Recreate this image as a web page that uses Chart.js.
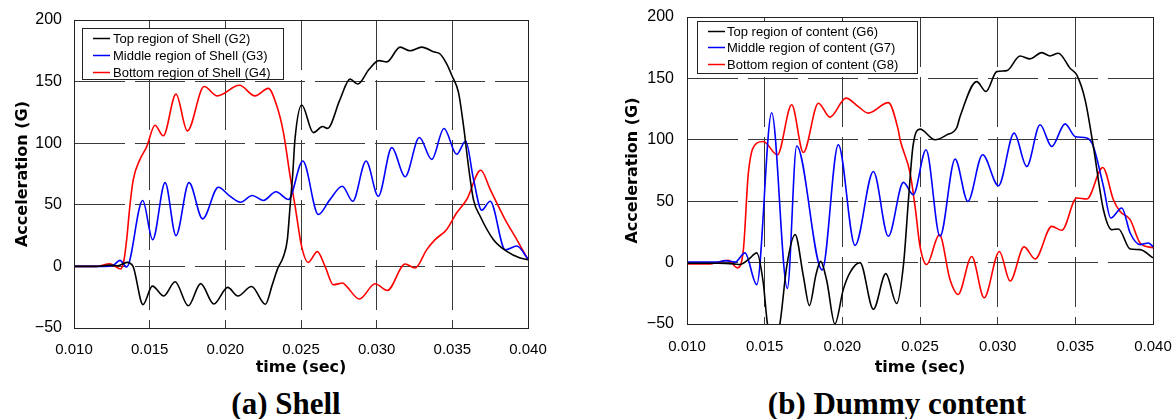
<!DOCTYPE html>
<html><head><meta charset="utf-8">
<script src="https://cdn.jsdelivr.net/npm/chart.js@4.4.1/dist/chart.umd.min.js"></script>
<style>
html,body{margin:0;padding:0;background:#fff;}
#wrap{position:relative;width:1176px;height:419px;overflow:hidden;background:#fff;}
.cv{position:absolute;top:0;}
.cap{position:absolute;font-family:"Liberation Serif","Times New Roman",serif;font-weight:bold;font-size:31px;line-height:31px;white-space:nowrap;transform:translateX(-50%);color:#000;}
</style></head><body>
<div id="wrap">
<canvas id="c1" class="cv" style="left:0" width="560" height="380"></canvas>
<canvas id="c2" class="cv" style="left:588px" width="588" height="380"></canvas>
<div class="cap" style="left:286px;top:388px">(a) Shell</div>
<div class="cap" style="left:897px;top:388px">(b) Dummy content</div>
</div>
<script>
// ---- shared axis values ----
const xTicksSec = [0.010, 0.015, 0.020, 0.025, 0.030, 0.035, 0.040];
const yTicks = [-50, 0, 50, 100, 150, 200];

// ---- (a) Shell : time in ms, acceleration in G ----
const shellTopT = [10.0,11.5,12.4,12.9,13.5,13.9,14.56,15.18,15.93,16.68,17.55,18.37,19.24,20.16,20.83,21.73,22.65,23.1,23.45,23.84,24.1,24.28,24.46,24.6,25.05,25.81,26.43,26.75,27.58,28.24,28.75,29.5,30.15,30.67,31.55,32.2,32.98,33.75,34.19,34.6,34.97,35.41,35.74,36.07,36.4,36.84,37.72,38.6,39.48,40.0];
const shellTopG = [0,0,1,0.5,3.3,0,-31,-16,-24,-12.5,-32,-14,-30.5,-17,-24,-16.3,-30.7,-15,-2,8,22,49,76,103,131,108.6,113.5,112,135.6,152,148,160,167,166,178,175,178,174.3,172.4,165,155,141,114,81,54,40.7,21.7,12.2,6.8,5.5];

const shellMidT = [10.0,12.0,12.6,13.04,13.48,14.54,15.2,16.02,16.74,17.6,18.5,19.54,20.3,21.0,21.78,22.51,23.35,24.17,25.12,26.15,26.9,27.73,28.42,29.3,30.11,31.0,31.88,32.82,33.64,34.45,35.29,35.88,36.4,36.94,37.5,38.5,39.26,40.0];
const shellMidG = [0,0,1,4.9,-0.5,53.5,21.7,68,25,68,38.6,64.3,57,52.1,57.6,53.5,60.6,54.3,85.5,42.1,54,65.1,52.9,85.5,57,96.4,72.8,104.6,86.9,111.9,91,101.8,70.6,45.6,52.9,13.5,16.5,6];

const shellBotT = [10.0,11.5,12.38,13.08,13.3,13.48,13.7,13.92,14.36,14.8,15.35,15.9,16.74,17.49,18.6,19.47,20.93,21.96,22.84,23.4,23.84,24.28,24.61,25.04,25.48,26.08,26.59,27.14,27.76,28.0,28.86,29.9,30.71,31.88,32.54,33.31,33.86,34.63,35.29,35.95,36.88,37.5,38.49,39.26,40.0];
const shellBotG = [0,0,2.2,-2.1,5,21.7,50,70.6,86.9,97,114.6,106,139.8,110,146,138.4,147,138.4,144.5,130.3,108.6,73.3,48.9,16.3,3.3,12,0,-14.9,-13.5,-16,-26.5,-14.1,-19.5,2,-1.3,13.6,21.7,30,43.5,54.3,78,62.5,38,21.7,5.5];

// ---- (b) Dummy content : time in ms, acceleration in G ----
const contTopT = [10.0,12.0,13.0,13.41,14.0,14.49,14.91,15.17,15.55,15.99,16.42,16.96,17.49,17.88,18.3,18.6,19.0,19.52,20.06,20.5,21.14,22.0,22.8,23.5,23.95,24.25,24.55,25.0,25.97,26.72,27.37,27.58,28.65,29.25,29.94,30.59,31.44,32.09,32.84,33.37,33.91,34.66,35.09,35.63,36.16,36.81,37.35,37.78,38.53,39.17,40.0];
const contTopG = [-0.5,-0.5,-1,-1.6,3,7.9,-16.5,-49,-68,-49,-3,22.8,-11,-35,-10,1,-15,-50,-22,-8,0,-38,-9,-33.3,0,50,95,108.7,100,104,110,119,147.4,139.3,155.5,156.3,168.3,165.9,171,168.3,170.5,158.3,152.8,132.5,94.6,43,26.8,27.4,11.1,10.6,3.8];

const contMidT = [10.0,12.0,12.45,13.1,13.73,14.49,15.45,16.46,17.06,18.7,19.74,20.82,22.0,22.96,23.93,24.57,25.39,26.29,27.26,28.08,29.03,30.05,31.06,31.87,32.73,33.48,34.34,34.98,35.74,36.16,36.81,37.28,37.99,38.53,39.17,39.7,40.0];
const contMidG = [0.5,0.5,1.6,0.5,7.9,-17.9,122,-21,95,-6,96,14,74.2,21.4,65.3,55.3,91.9,21.4,84.3,49.8,87.8,62.6,105.4,78.3,112.2,94.6,113,102.7,101.4,94.6,62,36.3,44.5,24.1,14.6,16,13];

const contBotT = [10.0,11.5,12.66,13.24,13.63,13.95,14.49,14.91,15.82,16.74,17.49,18.46,19.2,20.24,21.03,21.67,22.96,23.6,23.72,24.36,24.68,25.0,25.43,26.25,26.93,27.45,28.33,29.13,30.11,30.8,31.7,32.41,33.48,34.13,35.09,35.74,36.77,37.45,37.88,38.53,39.17,40.0];
const contBotG = [-1,-1,1.9,-4.3,10.6,73,97.3,98.6,87.8,128.5,89.7,129.8,118.5,133.9,127,121.7,130.3,108,100,73,46,13.3,-1.6,22.8,-13.8,-26,5,-28.7,9,-15,12.8,3,29.5,26.3,52.6,51.8,77.5,51.2,41.7,35,16,12];

const shellLabels = ['Top region of Shell (G2)','Middle region of Shell (G3)','Bottom region of Shell (G4)'];
const contLabels = ['Top region of content (G6)','Middle region of content (G7)','Bottom region of content (G8)'];
const seriesColors = ['#000000','#0000ff','#ff0000'];

function pts(ts, vs){ return ts.map((t,i)=>({x:t/1000, y:vs[i]})); }

const frameBox = {
  id:'frameBox',
  afterDatasetsDraw(chart, args, o){
    const a = chart.chartArea, ctx = chart.ctx;
    ctx.save(); ctx.strokeStyle = o.color || '#000'; ctx.lineWidth = 1;
    ctx.strokeRect(Math.round(a.left)+0.5, Math.round(a.top)+0.5, Math.round(a.right-a.left), Math.round(a.bottom-a.top));
    ctx.restore();
  }
};
const boxLegend = {
  id:'boxLegend',
  afterDraw(chart, args, o){
    const ctx = chart.ctx;
    ctx.save();
    ctx.fillStyle = '#fff'; ctx.fillRect(o.x, o.y, o.w, o.h);
    ctx.strokeStyle = '#222'; ctx.lineWidth = 1;
    ctx.strokeRect(o.x+0.5, o.y+0.5, o.w, o.h);
    ctx.font = '13px "Liberation Sans", Arial, sans-serif';
    ctx.textBaseline = 'middle'; ctx.textAlign = 'left';
    chart.data.datasets.forEach((ds,i)=>{
      const y = Math.round(o.y + o.first + i*o.row) + 0.5;
      ctx.strokeStyle = ds.borderColor; ctx.lineWidth = 1.5;
      ctx.beginPath(); ctx.moveTo(o.x+o.l1, y); ctx.lineTo(o.x+o.l2, y); ctx.stroke();
      ctx.fillStyle = '#000'; ctx.fillText(ds.label, o.x+o.tx, y+0.5);
    });
    ctx.restore();
  }
};

function makeChart(id, labels, series, cfg){
  const datasets = series.map((s,i)=>({
    label: labels[i], data: pts(s[0], s[1]), borderColor: seriesColors[i],
    borderWidth: 1.6, pointRadius: 0, cubicInterpolationMode: 'monotone', fill:false
  }));
  return new Chart(document.getElementById(id), {
    type:'line',
    data:{datasets},
    plugins:[frameBox, boxLegend],
    options:{
      responsive:false, animation:false, events:[],
      layout:{padding:{left:0, right:cfg.padRight, top:cfg.padTop, bottom:0}},
      plugins:{legend:{display:false}, tooltip:{enabled:false}, frameBox:{color:'#222'}, boxLegend:cfg.legend},
      scales:{
        x:{type:'linear', min:xTicksSec[0], max:xTicksSec[xTicksSec.length-1],
          afterBuildTicks:(s)=>{ s.ticks = xTicksSec.map(v=>({value:v})); },
          ticks:{callback:(v)=>Number(v).toFixed(3), font:{family:'"Liberation Sans", Arial, sans-serif', size:15}, color:'#000', padding:cfg.xPad, maxRotation:0, autoSkip:false},
          grid:{color:'#3a3a3a', lineWidth:1, drawTicks:false},
          border:{display:true, color:'#222', dash:[50,10]},
          title:{display:true, text:'time (sec)', color:'#000', font:{family:'"DejaVu Sans", sans-serif', weight:'bold', size:16}, padding:{top:0, bottom:cfg.xTitlePad}},
          afterFit:(s)=>{ s.height = cfg.xH; s.paddingLeft = 0; s.paddingRight = 0; }
        },
        y:{type:'linear', min:yTicks[0], max:yTicks[yTicks.length-1],
          afterBuildTicks:(s)=>{ s.ticks = yTicks.map(v=>({value:v})); },
          ticks:{callback:(v)=>String(v).replace('-','\u2212'), font:{family:'"Liberation Sans", Arial, sans-serif', size:16}, color:'#000', padding:cfg.yPad},
          grid:{color:'#3a3a3a', lineWidth:1, drawTicks:false},
          border:{display:true, color:'#222', dash:[50,10]},
          title:{display:true, text:'Acceleration (G)', color:'#000', font:{family:'"DejaVu Sans", sans-serif', weight:'bold', size:16}, padding:{top:cfg.yTitlePad, bottom:0}},
          afterFit:(s)=>{ s.width = cfg.yW; s.paddingTop = 0; s.paddingBottom = 0; }
        }
      }
    }
  });
}

makeChart('c1', shellLabels, [[shellTopT,shellTopG],[shellMidT,shellMidG],[shellBotT,shellBotG]], {
  padRight:32, padTop:20, xH:52, yW:74, xPad:13, yPad:12, xTitlePad:2.4, yTitlePad:13,
  legend:{x:82, y:28, w:201, h:51, l1:11, l2:28, tx:31, first:10.3, row:16.7}
});
makeChart('c2', contLabels, [[contTopT,contTopG],[contMidT,contMidG],[contBotT,contBotG]], {
  padRight:23, padTop:17, xH:56, yW:99, xPad:13.5, yPad:13, xTitlePad:2.1, yTitlePad:35.4,
  legend:{x:109, y:21, w:220, h:52, l1:11, l2:28, tx:30, first:10, row:16.3}
});
</script>
</body></html>
